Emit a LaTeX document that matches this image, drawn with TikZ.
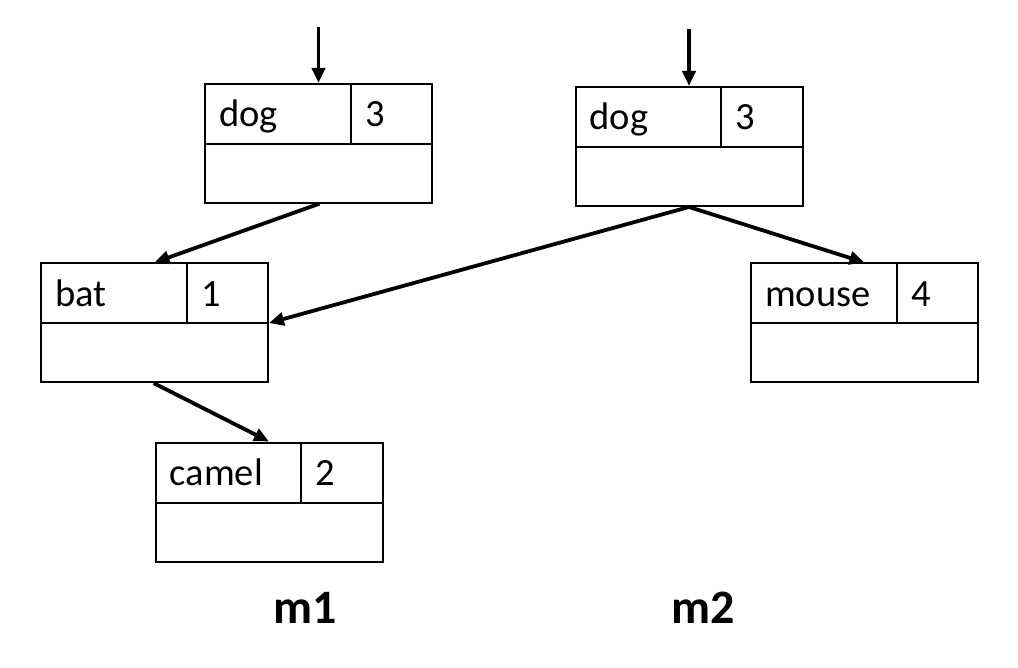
\documentclass[tikz,border=0pt]{standalone}
\usepackage{fontspec}
\setmainfont{Carlito}
\usetikzlibrary{arrows.meta}
\tikzset{
  cell/.style={draw=black, line width=2pt, minimum width=227pt, minimum height=119pt, inner sep=0pt, fill=white},
  word/.style={anchor=base west, inner sep=0pt, font=\fontsize{38.5}{46}\selectfont},
  title/.style={anchor=base, inner sep=0pt, font=\bfseries\fontsize{48}{56}\selectfont},
  ptr/.style={line width=3.8pt, -{Triangle[length=15pt,width=13pt]}, shorten <=-1pt},
}
\newcommand{\recbox}[5]{%
  % #1 name, #2 x, #3 y, #4 word, #5 number
  \node[cell] (#1) at (#2,#3) {};
  \draw[line width=2pt] ([yshift=-61pt]#1.north west) -- ([yshift=-61pt]#1.north east);
  \draw[line width=2pt] ([xshift=146.5pt]#1.north west) -- ([xshift=146.5pt,yshift=-61pt]#1.north west);
  \node[word] (#1w) at ([xshift=15pt,yshift=-44pt]#1.north west) {#4};
  \node[word] (#1n) at ([xshift=161pt,yshift=-44pt]#1.north west) {#5};
}
\begin{document}
\begin{tikzpicture}[x=1pt,y=-1pt]
\useasboundingbox (0,0) rectangle (1018,668);
\recbox{dogA}{318.5}{143.5}{dog}{3}
\recbox{dogB}{689}{146.5}{dog}{3}
\recbox{bat}{154.5}{323}{bat}{1}
\recbox{camel}{269}{502}{camel}{2}
\recbox{mouse}{864.5}{323}{mouse}{4}
\coordinate (inA) at (318.5,28);
\coordinate (inB) at (689,30);
\draw[ptr] (inA) -- (dogA.north);
\draw[ptr] (inB) -- (dogB.north);
\draw[ptr] (dogA.south) -- (bat.north);
\draw[ptr] (dogB.south) -- (bat.east);
\draw[ptr] (dogB.south) -- (mouse.north);
\draw[ptr] (bat.south) -- (camel.north);
\node[title] (m1) at (305,623) {m1};
\node[title] (m2) at (703,623) {m2};
\end{tikzpicture}
\end{document}
